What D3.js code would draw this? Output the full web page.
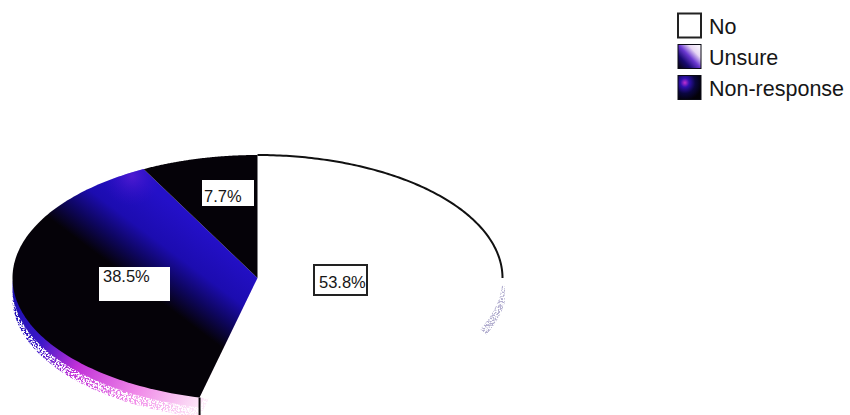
<!DOCTYPE html>
<html><head><meta charset="utf-8">
<script src="https://cdn.jsdelivr.net/npm/d3@7"></script>
<style>html,body{margin:0;padding:0;background:#fff}svg{display:block}text{font-family:"Liberation Sans",Arial,sans-serif;fill:#161616}</style>
</head><body><svg id="c" width="850" height="415"></svg>
<script>
const categories = ["No","Unsure","Non-response"];
const values = [53.8,38.5,7.7];
const valueLabels = ["53.8%","38.5%","7.7%"];

const svg = d3.select("#c");
const cx=257.5, cy=278, rx=245, ry=123, depth=20;
const defs = svg.append("defs");

function lin(id,x1,y1,x2,y2,stops,user=true){
  const g=defs.append("linearGradient").attr("id",id).attr("x1",x1).attr("y1",y1).attr("x2",x2).attr("y2",y2);
  if(user) g.attr("gradientUnits","userSpaceOnUse");
  stops.forEach(s=>g.append("stop").attr("offset",s[0]).attr("stop-color",s[1]));
}
function rad(id,fx,fy,r,stops,user=true){
  const g=defs.append("radialGradient").attr("id",id).attr("cx",fx).attr("cy",fy).attr("r",r);
  if(user) g.attr("gradientUnits","userSpaceOnUse");
  stops.forEach(s=>{const t=g.append("stop").attr("offset",s[0]).attr("stop-color",s[1]);if(s[2]!==undefined)t.attr("stop-opacity",s[2]);});
}
lin("band",200,225,149,293,[[0,"#2410c8"],[0.45,"#1c0cb0"],[0.72,"#0e0660"],[1,"#050208"]]);
rad("spot",132,176,30,[[0,"#6a22d8",0.6],[1,"#3a10c8",0]]);
lin("rim",14,300,205,400,[[0,"#1c10b0"],[0.2,"#3c18c8"],[0.4,"#c030d8"],[0.7,"#f088e8"],[1,"#fdeaf8"]]);
lin("swU",1,0,0,1,[[0,"#ffffff"],[0.28,"#e8d8f4"],[0.5,"#6a38d0"],[0.72,"#180a70"],[1,"#050208"]],false);
rad("swN",0.3,0.3,0.75,[[0,"#c030d0"],[0.25,"#3010b0"],[0.6,"#0a0640"],[1,"#030108"]],false);

const speck=defs.append("filter").attr("id","speck").attr("x","-10%").attr("y","-10%").attr("width","120%").attr("height","120%");
speck.append("feTurbulence").attr("type","fractalNoise").attr("baseFrequency",0.6).attr("numOctaves",2).attr("seed",4).attr("result","n");
speck.append("feColorMatrix").attr("in","n").attr("type","matrix")
  .attr("values","0 0 0 0 0  0 0 0 0 0  0 0 0 0 0  0 0 0 6 -2.6").attr("result","a");
speck.append("feComposite").attr("in","SourceGraphic").attr("in2","a").attr("operator","in");

const pie=d3.pie().sort(null).value(d=>d)(values);
const rimAngle=pie[0].endAngle;
const rimEnd=Math.PI*1.52;

// slice outline in page coordinates, built from the pie layout
function wedge(a0,a1,dy=0,closed=true){
  const p=d3.path(),n=120;
  if(closed) p.moveTo(cx,cy+dy);
  for(let k=0;k<=n;k++){
    const a=a0+(a1-a0)*k/n, x=cx+rx*Math.sin(a), y=cy+dy-ry*Math.cos(a);
    if(k===0&&!closed) p.moveTo(x,y); else p.lineTo(x,y);
  }
  if(closed) p.closePath();
  return p.toString();
}

// side of the disc
svg.append("path").attr("d",wedge(rimAngle,rimEnd,depth)).attr("fill","url(#rim)").attr("filter","url(#speck)");
svg.append("path").attr("d",wedge(rimAngle,rimEnd,depth*0.5)).attr("fill","url(#rim)");
svg.append("path").attr("d",wedge(Math.PI*0.51,Math.PI*0.63,4,false)).attr("fill","none")
  .attr("stroke","#b4b0d0").attr("stroke-width",11).attr("filter","url(#speck)");

// top of the disc
const fills=["#ffffff","url(#band)","#050208"];
svg.selectAll("path.s").data(pie).join("path").attr("class","s")
  .attr("d",d=>wedge(d.startAngle,d.endAngle)).attr("fill",(d,i)=>fills[i]);
svg.append("path").attr("d",wedge(pie[1].startAngle,pie[1].endAngle)).attr("fill","url(#spot)");

// outline of the "No" slice
svg.append("path").attr("d",wedge(0,Math.PI*0.5,0,false))
  .attr("fill","none").attr("stroke","#111").attr("stroke-width",2);
const bx=cx+rx*Math.sin(rimAngle), by=cy-ry*Math.cos(rimAngle);
svg.append("line").attr("x1",bx).attr("x2",bx).attr("y1",by).attr("y2",415).attr("stroke","#0a0a0a").attr("stroke-width",2);

// value labels
const labelBoxes=[
 {x:314,y:265,w:53,h:30,tx:319,ty:288,border:true},
 {x:99,y:267,w:71,h:34,tx:103,ty:282,border:false},
 {x:202,y:180,w:52,h:26,tx:204,ty:202,border:false}];
labelBoxes.forEach((b,i)=>{
  svg.append("rect").attr("x",b.x).attr("y",b.y).attr("width",b.w).attr("height",b.h)
    .attr("fill","#fff").attr("stroke",b.border?"#222":"none").attr("stroke-width",2);
  svg.append("text").attr("x",b.tx).attr("y",b.ty).attr("font-size",16.5).text(valueLabels[i]);
});

// legend
const legY=d3.scalePoint().domain(categories).range([25.5,87.5]);
const swatch=["#ffffff","url(#swU)","url(#swN)"];
categories.forEach((c,i)=>{
  const y=legY(c);
  svg.append("rect").attr("x",678).attr("y",y-12).attr("width",23).attr("height",24)
    .attr("fill",swatch[i]).attr("stroke",i===0?"#222":"#0a0a14").attr("stroke-width",i===0?2:1);
  svg.append("text").attr("x",709).attr("y",y+8).attr("font-size",21.5).text(c);
});
</script></body></html>
